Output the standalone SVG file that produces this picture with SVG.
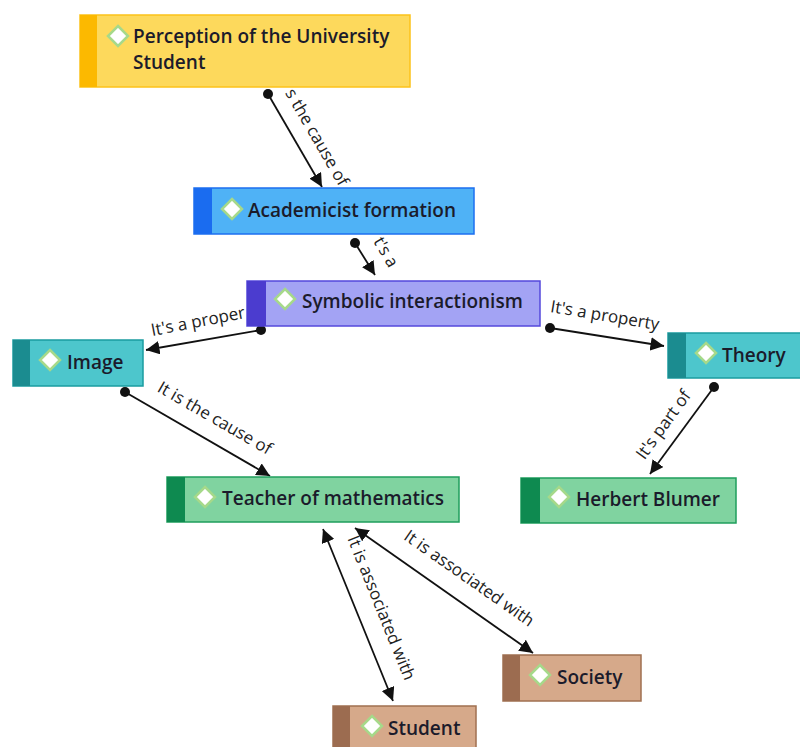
<svg xmlns="http://www.w3.org/2000/svg" width="800" height="747" viewBox="0 0 800 747">
<defs>
<style>
.nt{font-family:"Open Sans","Liberation Sans",sans-serif;font-size:19px;font-weight:600;fill:#1b1b2b}
.lb{font-family:"Open Sans","Liberation Sans",sans-serif;font-size:17px;fill:#222;text-anchor:middle}
.cn{stroke:#111;stroke-width:1.8;fill:none;marker-end:url(#ah)}
.bi{marker-start:url(#ahs)}
.dot{fill:#111}
.ic{fill:#fff;stroke:#a6d98a;stroke-width:2.5}
</style>
<marker id="ah" viewBox="0 0 10 10" refX="10" refY="5" markerWidth="7.5" markerHeight="7.5" markerUnits="strokeWidth" orient="auto"><path d="M0,0 L10,5 L0,10 z" fill="#111"/></marker>
<marker id="ahs" viewBox="0 0 10 10" refX="0" refY="5" markerWidth="7.5" markerHeight="7.5" markerUnits="strokeWidth" orient="auto"><path d="M10,0 L0,5 L10,10 z" fill="#111"/></marker>
<path id="dm" d="M0,-10 L10,0 L0,10 L-10,0 z"/>
</defs>
<rect width="800" height="747" fill="#fff"/>
<g id="connectors">
<line class="cn" x1="268" y1="94" x2="322" y2="187"/><circle class="dot" cx="268" cy="94" r="5"/>
<text class="lb" transform="translate(312,140) rotate(60)">s the cause of</text>
<line class="cn" x1="355" y1="243" x2="375" y2="275"/><circle class="dot" cx="355" cy="243" r="5"/>
<text class="lb" transform="translate(381,255) rotate(60)">t's a</text>
<line class="cn" x1="261" y1="330" x2="146" y2="350"/><circle class="dot" cx="261" cy="330" r="5"/>
<text class="lb" transform="translate(199,327) rotate(-11)">It's a proper</text>
<line class="cn" x1="550" y1="328" x2="664" y2="346"/><circle class="dot" cx="550" cy="328" r="5"/>
<text class="lb" transform="translate(604,321) rotate(9.5)">It's a property</text>
<line class="cn" x1="714" y1="387" x2="650" y2="474"/><circle class="dot" cx="714" cy="387" r="5"/>
<text class="lb" transform="translate(668,428) rotate(-54)">It's part of</text>
<line class="cn" x1="125" y1="392" x2="270" y2="476"/><circle class="dot" cx="125" cy="392" r="5"/>
<text class="lb" transform="translate(212,423) rotate(30)">It is the cause of</text>
<line class="cn bi" x1="323" y1="529" x2="393" y2="701"/>
<text class="lb" transform="translate(376,610) rotate(68)">It is associated with</text>
<line class="cn bi" x1="355" y1="528" x2="533" y2="653"/>
<text class="lb" transform="translate(466,583) rotate(35)">It is associated with</text>
</g>
<g id="n-perception">
<rect x="80" y="15" width="330" height="72" fill="#fdd95c" stroke="#fcc21a" stroke-width="1.5"/>
<rect x="80" y="15" width="17" height="72" fill="#fcb900"/>
<use href="#dm" x="118" y="36" class="ic"/>
<text class="nt" x="133" y="43">Perception of the University</text>
<text class="nt" x="133" y="69">Student</text>
</g>
<g id="n-academicist">
<rect x="194" y="188" width="280" height="46" fill="#4fb2f6" stroke="#1c6ff0" stroke-width="1.5"/>
<rect x="194" y="188" width="18" height="46" fill="#1a6cf0"/>
<use href="#dm" x="232" y="209" class="ic"/>
<text class="nt" x="248" y="217">Academicist formation</text>
</g>
<g id="n-symbolic">
<rect x="247" y="281" width="293" height="45" fill="#a3a3f4" stroke="#5448dc" stroke-width="1.5"/>
<rect x="247" y="281" width="19" height="45" fill="#4b3ccf"/>
<use href="#dm" x="285" y="299" class="ic"/>
<text class="nt" x="302" y="308">Symbolic interactionism</text>
</g>
<g id="n-image">
<rect x="13" y="340" width="130" height="46" fill="#4dc6cc" stroke="#1a9ca0" stroke-width="1.5"/>
<rect x="13" y="340" width="17" height="46" fill="#1b8c90"/>
<use href="#dm" x="50" y="360" class="ic"/>
<text class="nt" x="67" y="369">Image</text>
</g>
<g id="n-theory">
<rect x="668" y="333" width="140" height="45" fill="#4dc6cc" stroke="#1a9ca0" stroke-width="1.5"/>
<rect x="668" y="333" width="18" height="45" fill="#1b8c90"/>
<use href="#dm" x="706" y="353" class="ic"/>
<text class="nt" x="722" y="362">Theory</text>
</g>
<g id="n-herbert">
<rect x="521" y="478" width="215" height="45" fill="#80d3a0" stroke="#1f9e5c" stroke-width="1.5"/>
<rect x="521" y="478" width="19" height="45" fill="#0e8a50"/>
<use href="#dm" x="559" y="497" class="ic"/>
<text class="nt" x="576" y="506">Herbert Blumer</text>
</g>
<g id="n-teacher">
<rect x="167" y="477" width="292" height="45" fill="#80d3a0" stroke="#1f9e5c" stroke-width="1.5"/>
<rect x="167" y="477" width="18" height="45" fill="#0e8a50"/>
<use href="#dm" x="205" y="497" class="ic"/>
<text class="nt" x="222" y="505">Teacher of mathematics</text>
</g>
<g id="n-society">
<rect x="503" y="655" width="138" height="46" fill="#d6a98a" stroke="#a07050" stroke-width="1.5"/>
<rect x="503" y="655" width="17" height="46" fill="#9c6c50"/>
<use href="#dm" x="540" y="675" class="ic"/>
<text class="nt" x="557" y="684">Society</text>
</g>
<g id="n-student">
<rect x="333" y="706" width="143" height="46" fill="#d6a98a" stroke="#a07050" stroke-width="1.5"/>
<rect x="333" y="706" width="17" height="46" fill="#9c6c50"/>
<use href="#dm" x="372" y="726" class="ic"/>
<text class="nt" x="388" y="735">Student</text>
</g>
</svg>
